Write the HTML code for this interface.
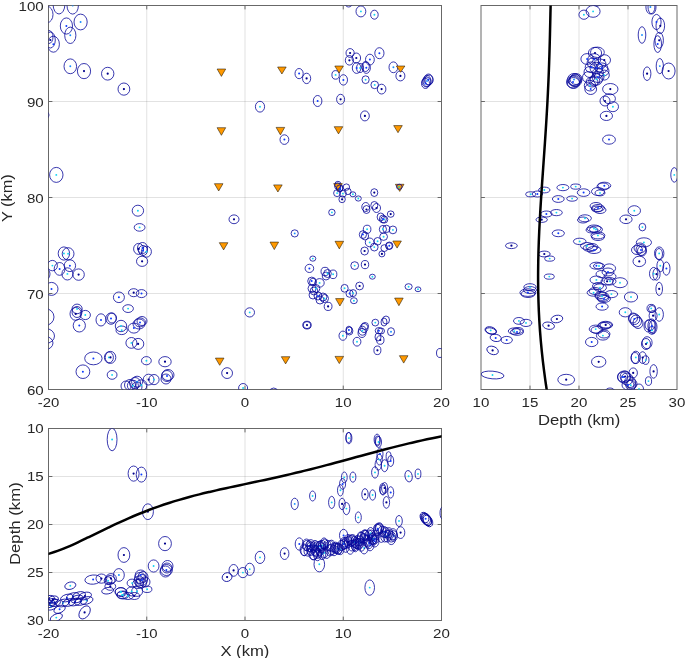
<!DOCTYPE html>
<html><head><meta charset="utf-8"><title>plot</title>
<style>html,body{margin:0;padding:0;background:#fff;overflow:hidden}svg{display:block;will-change:transform}text{font-family:'Liberation Sans', sans-serif;fill:#262626}</style></head><body>
<svg width="685" height="658" viewBox="0 0 685 658">
<rect x="0" y="0" width="685" height="658" fill="#fff"/>
<defs>
<clipPath id="cm"><rect x="48.5" y="5.5" width="393" height="384"/></clipPath>
<clipPath id="cr"><rect x="481" y="5.5" width="196" height="384"/></clipPath>
<clipPath id="cb"><rect x="48.5" y="428.5" width="393" height="192"/></clipPath>
</defs>
<g stroke="#262626" stroke-opacity="0.135" stroke-width="1" fill="none">
<line x1="146.75" y1="5.5" x2="146.75" y2="389.5"/>
<line x1="146.75" y1="428.5" x2="146.75" y2="620.5"/>
<line x1="245" y1="5.5" x2="245" y2="389.5"/>
<line x1="245" y1="428.5" x2="245" y2="620.5"/>
<line x1="343.25" y1="5.5" x2="343.25" y2="389.5"/>
<line x1="343.25" y1="428.5" x2="343.25" y2="620.5"/>
<line x1="48.5" y1="293.5" x2="441.5" y2="293.5"/>
<line x1="481" y1="293.5" x2="677" y2="293.5"/>
<line x1="48.5" y1="197.5" x2="441.5" y2="197.5"/>
<line x1="481" y1="197.5" x2="677" y2="197.5"/>
<line x1="48.5" y1="101.5" x2="441.5" y2="101.5"/>
<line x1="481" y1="101.5" x2="677" y2="101.5"/>
<line x1="530" y1="5.5" x2="530" y2="389.5"/>
<line x1="48.5" y1="476.5" x2="441.5" y2="476.5"/>
<line x1="579" y1="5.5" x2="579" y2="389.5"/>
<line x1="48.5" y1="524.5" x2="441.5" y2="524.5"/>
<line x1="628" y1="5.5" x2="628" y2="389.5"/>
<line x1="48.5" y1="572.5" x2="441.5" y2="572.5"/>
</g>
<g stroke="#686868" stroke-width="1" fill="none">
<rect x="48.5" y="5.5" width="393" height="384"/>
<rect x="481" y="5.5" width="196" height="384"/>
<rect x="48.5" y="428.5" width="393" height="192"/>
<line x1="146.75" y1="389.5" x2="146.75" y2="385.6"/>
<line x1="146.75" y1="5.5" x2="146.75" y2="9.4"/>
<line x1="245" y1="389.5" x2="245" y2="385.6"/>
<line x1="245" y1="5.5" x2="245" y2="9.4"/>
<line x1="343.25" y1="389.5" x2="343.25" y2="385.6"/>
<line x1="343.25" y1="5.5" x2="343.25" y2="9.4"/>
<line x1="48.5" y1="293.5" x2="52.4" y2="293.5"/>
<line x1="441.5" y1="293.5" x2="437.6" y2="293.5"/>
<line x1="48.5" y1="197.5" x2="52.4" y2="197.5"/>
<line x1="441.5" y1="197.5" x2="437.6" y2="197.5"/>
<line x1="48.5" y1="101.5" x2="52.4" y2="101.5"/>
<line x1="441.5" y1="101.5" x2="437.6" y2="101.5"/>
<line x1="530" y1="389.5" x2="530" y2="385.6"/>
<line x1="530" y1="5.5" x2="530" y2="9.4"/>
<line x1="579" y1="389.5" x2="579" y2="385.6"/>
<line x1="579" y1="5.5" x2="579" y2="9.4"/>
<line x1="628" y1="389.5" x2="628" y2="385.6"/>
<line x1="628" y1="5.5" x2="628" y2="9.4"/>
<line x1="481" y1="293.5" x2="484.9" y2="293.5"/>
<line x1="677" y1="293.5" x2="673.1" y2="293.5"/>
<line x1="481" y1="197.5" x2="484.9" y2="197.5"/>
<line x1="677" y1="197.5" x2="673.1" y2="197.5"/>
<line x1="481" y1="101.5" x2="484.9" y2="101.5"/>
<line x1="677" y1="101.5" x2="673.1" y2="101.5"/>
<line x1="146.75" y1="620.5" x2="146.75" y2="616.6"/>
<line x1="146.75" y1="428.5" x2="146.75" y2="432.4"/>
<line x1="245" y1="620.5" x2="245" y2="616.6"/>
<line x1="245" y1="428.5" x2="245" y2="432.4"/>
<line x1="343.25" y1="620.5" x2="343.25" y2="616.6"/>
<line x1="343.25" y1="428.5" x2="343.25" y2="432.4"/>
<line x1="48.5" y1="476.5" x2="52.4" y2="476.5"/>
<line x1="441.5" y1="476.5" x2="437.6" y2="476.5"/>
<line x1="48.5" y1="524.5" x2="52.4" y2="524.5"/>
<line x1="441.5" y1="524.5" x2="437.6" y2="524.5"/>
<line x1="48.5" y1="572.5" x2="52.4" y2="572.5"/>
<line x1="441.5" y1="572.5" x2="437.6" y2="572.5"/>
</g>
<g clip-path="url(#cm)">
<g fill="none" stroke="#06069a" stroke-width="0.8">
<ellipse cx="59" cy="4.5" rx="5.9" ry="9.5"/>
<ellipse cx="72.7" cy="5.6" rx="5.7" ry="8.5"/>
<ellipse cx="47.5" cy="14.5" rx="5.5" ry="8"/>
<ellipse cx="66.4" cy="26" rx="6.1" ry="8.1"/>
<ellipse cx="80.6" cy="22" rx="6.6" ry="7.9"/>
<ellipse cx="70.3" cy="35.3" rx="5.6" ry="8.2"/>
<ellipse cx="50.3" cy="40" rx="5" ry="8"/>
<ellipse cx="53.4" cy="44.2" rx="6" ry="8"/>
<ellipse cx="49" cy="37" rx="4" ry="6.5"/>
<ellipse cx="70.3" cy="66.3" rx="6.3" ry="7.4"/>
<ellipse cx="84" cy="71.1" rx="6.6" ry="7.6"/>
<ellipse cx="107.7" cy="73.7" rx="6.2" ry="6.4"/>
<ellipse cx="123.9" cy="89.1" rx="5.9" ry="6.1"/>
<ellipse cx="299.1" cy="73.6" rx="4.1" ry="5.1"/>
<ellipse cx="306.6" cy="78.4" rx="4.1" ry="5.2"/>
<ellipse cx="348.7" cy="2.5" rx="4" ry="4.5"/>
<ellipse cx="360.9" cy="11.4" rx="4.9" ry="5.5"/>
<ellipse cx="374.4" cy="14.7" rx="3.8" ry="4.5"/>
<ellipse cx="350.1" cy="53" rx="4.1" ry="4.4"/>
<ellipse cx="349.4" cy="60.3" rx="4.1" ry="4.8"/>
<ellipse cx="356.3" cy="58" rx="4.3" ry="5"/>
<ellipse cx="369.9" cy="59.6" rx="4.4" ry="5.4"/>
<ellipse cx="379.4" cy="53.2" rx="4.6" ry="5.5"/>
<ellipse cx="356.6" cy="68" rx="4.3" ry="5.4"/>
<ellipse cx="360.1" cy="68" rx="3.5" ry="4.5"/>
<ellipse cx="366.3" cy="67.7" rx="4.1" ry="5.7"/>
<ellipse cx="365.5" cy="66.5" rx="3.8" ry="5"/>
<ellipse cx="393.4" cy="67.3" rx="4.4" ry="5.4"/>
<ellipse cx="400.4" cy="75.9" rx="4.5" ry="5"/>
<ellipse cx="335.6" cy="74.9" rx="3.7" ry="4.3"/>
<ellipse cx="343.4" cy="79.9" rx="4.1" ry="5.2"/>
<ellipse cx="365.6" cy="79.7" rx="3.6" ry="3.9"/>
<ellipse cx="374.7" cy="84.9" rx="3.8" ry="3.8"/>
<ellipse cx="381.6" cy="89.1" rx="4.3" ry="4.9"/>
<ellipse cx="340.6" cy="99.3" rx="4" ry="5"/>
<ellipse cx="425.5" cy="83.5" rx="4" ry="5"/>
<ellipse cx="428.5" cy="79.5" rx="4.5" ry="5.5"/>
<ellipse cx="427" cy="81" rx="4" ry="5.5"/>
<ellipse cx="429" cy="80" rx="4" ry="5"/>
<ellipse cx="426.5" cy="82" rx="4.5" ry="5"/>
<ellipse cx="46.5" cy="115" rx="2.5" ry="3"/>
<ellipse cx="56.3" cy="174.9" rx="6.7" ry="7.5"/>
<ellipse cx="260" cy="106.7" rx="4.6" ry="5.4"/>
<ellipse cx="317.6" cy="101" rx="4.3" ry="5.5"/>
<ellipse cx="284.4" cy="139.6" rx="4.4" ry="4.8"/>
<ellipse cx="364.9" cy="115.9" rx="4.4" ry="5"/>
<ellipse cx="63.9" cy="253.5" rx="5.7" ry="6.6"/>
<ellipse cx="68.1" cy="253.8" rx="5.9" ry="6.1"/>
<ellipse cx="52.4" cy="265.6" rx="5" ry="5.2"/>
<ellipse cx="59.6" cy="268.9" rx="5.4" ry="6.4"/>
<ellipse cx="69.9" cy="265.7" rx="5.7" ry="5.9"/>
<ellipse cx="67.4" cy="273.9" rx="5.5" ry="6.1"/>
<ellipse cx="78.6" cy="274.6" rx="5.7" ry="5.7"/>
<ellipse cx="45" cy="274" rx="5" ry="6"/>
<ellipse cx="51.5" cy="288.9" rx="6.5" ry="6.5"/>
<ellipse cx="137.9" cy="210.7" rx="5.7" ry="5.5"/>
<ellipse cx="139.6" cy="227.4" rx="5.4" ry="3.8"/>
<ellipse cx="138.6" cy="248.9" rx="5" ry="5.5"/>
<ellipse cx="142.5" cy="248" rx="5" ry="5.5"/>
<ellipse cx="146.4" cy="251.7" rx="5" ry="5.5"/>
<ellipse cx="143" cy="250.5" rx="4.5" ry="5"/>
<ellipse cx="142.1" cy="261.3" rx="5.6" ry="5.1"/>
<ellipse cx="234" cy="219.3" rx="5" ry="4.4"/>
<ellipse cx="294.7" cy="233.4" rx="3.6" ry="3.6"/>
<ellipse cx="337.1" cy="193.1" rx="3.5" ry="3.5"/>
<ellipse cx="342.9" cy="193.6" rx="3.5" ry="3.5"/>
<ellipse cx="352.9" cy="194.3" rx="2.9" ry="2.5"/>
<ellipse cx="346.4" cy="187.1" rx="3.2" ry="3.2"/>
<ellipse cx="347.9" cy="191.4" rx="3.2" ry="3.2"/>
<ellipse cx="337.9" cy="184.3" rx="3" ry="3"/>
<ellipse cx="340" cy="188" rx="3" ry="3.5"/>
<ellipse cx="342.1" cy="199.3" rx="3.2" ry="3.4"/>
<ellipse cx="358.3" cy="198.5" rx="3" ry="2.6"/>
<ellipse cx="374.3" cy="192.6" rx="3.5" ry="3.9"/>
<ellipse cx="331.9" cy="212.4" rx="3.2" ry="3.2"/>
<ellipse cx="365.7" cy="207" rx="3.9" ry="4.5"/>
<ellipse cx="366.5" cy="209.5" rx="3.5" ry="4"/>
<ellipse cx="374.3" cy="205.5" rx="3.5" ry="4"/>
<ellipse cx="376.5" cy="208" rx="4" ry="4.5"/>
<ellipse cx="390.7" cy="214.1" rx="3.4" ry="3.2"/>
<ellipse cx="380.7" cy="217" rx="3.6" ry="4"/>
<ellipse cx="382.9" cy="219" rx="3.5" ry="4"/>
<ellipse cx="384.3" cy="219.6" rx="3.5" ry="3.5"/>
<ellipse cx="367.1" cy="229.3" rx="3.8" ry="4.1"/>
<ellipse cx="362.9" cy="234.6" rx="3.6" ry="3.9"/>
<ellipse cx="365" cy="236" rx="3.6" ry="4"/>
<ellipse cx="369.7" cy="242.4" rx="4.4" ry="4.4"/>
<ellipse cx="377.6" cy="241.3" rx="3.6" ry="3.8"/>
<ellipse cx="374.3" cy="247.1" rx="3.8" ry="3.9"/>
<ellipse cx="382.9" cy="229.3" rx="3.6" ry="3.9"/>
<ellipse cx="386.4" cy="228.9" rx="3.6" ry="3.7"/>
<ellipse cx="392.9" cy="229.9" rx="3.8" ry="3.9"/>
<ellipse cx="383.6" cy="236.7" rx="3.9" ry="3.7"/>
<ellipse cx="364.6" cy="251" rx="3.8" ry="4"/>
<ellipse cx="384.3" cy="248.1" rx="3.4" ry="3.4"/>
<ellipse cx="389.3" cy="245.7" rx="3.6" ry="3.7"/>
<ellipse cx="389" cy="246" rx="3.3" ry="3.4"/>
<ellipse cx="381.9" cy="253.9" rx="3" ry="3"/>
<ellipse cx="354.7" cy="265.6" rx="3.9" ry="3.9"/>
<ellipse cx="365" cy="264.6" rx="3.7" ry="4.1"/>
<ellipse cx="372.4" cy="276.7" rx="2.9" ry="2.5"/>
<ellipse cx="359.6" cy="286" rx="3.9" ry="3.9"/>
<ellipse cx="344.6" cy="288.3" rx="3.6" ry="3.9"/>
<ellipse cx="349.6" cy="293.6" rx="3.6" ry="3.7"/>
<ellipse cx="353.1" cy="293.1" rx="3.4" ry="3.5"/>
<ellipse cx="353.9" cy="300.7" rx="3.4" ry="3"/>
<ellipse cx="312.8" cy="258.6" rx="3" ry="2.6"/>
<ellipse cx="309.4" cy="268.4" rx="4.3" ry="4.1"/>
<ellipse cx="325" cy="271.5" rx="4" ry="4.2"/>
<ellipse cx="327.5" cy="273.5" rx="3.8" ry="4"/>
<ellipse cx="326" cy="276" rx="3.8" ry="4"/>
<ellipse cx="333.1" cy="274.3" rx="3.75" ry="4.3"/>
<ellipse cx="311.7" cy="281.1" rx="4" ry="4"/>
<ellipse cx="313" cy="282" rx="3.5" ry="3.8"/>
<ellipse cx="319.6" cy="282.9" rx="4.6" ry="4.3"/>
<ellipse cx="312" cy="288.5" rx="4" ry="4"/>
<ellipse cx="316" cy="288.5" rx="3.8" ry="4"/>
<ellipse cx="314" cy="291" rx="3.8" ry="4"/>
<ellipse cx="313" cy="295" rx="4" ry="4"/>
<ellipse cx="318" cy="296" rx="4" ry="4"/>
<ellipse cx="323" cy="297" rx="4" ry="4"/>
<ellipse cx="324.5" cy="298.5" rx="4" ry="4"/>
<ellipse cx="320" cy="300" rx="4" ry="4"/>
<ellipse cx="328.1" cy="306.4" rx="3.9" ry="4.1"/>
<ellipse cx="307" cy="325.1" rx="4.2" ry="3.9"/>
<ellipse cx="307" cy="325.1" rx="3.8" ry="3.5"/>
<ellipse cx="342.9" cy="335.7" rx="3.9" ry="4.6"/>
<ellipse cx="348.9" cy="330" rx="3" ry="3.8"/>
<ellipse cx="349.5" cy="331" rx="3.4" ry="4"/>
<ellipse cx="362.4" cy="330.7" rx="4" ry="4.5"/>
<ellipse cx="364" cy="328" rx="4" ry="4.5"/>
<ellipse cx="362" cy="333" rx="4" ry="4.5"/>
<ellipse cx="365" cy="326" rx="3.5" ry="3.5"/>
<ellipse cx="357" cy="341.7" rx="3.9" ry="4.4"/>
<ellipse cx="375.3" cy="322.6" rx="3.4" ry="3.4"/>
<ellipse cx="378.9" cy="330.7" rx="3.7" ry="3.2"/>
<ellipse cx="381" cy="331" rx="3.5" ry="3"/>
<ellipse cx="380.3" cy="340" rx="3.7" ry="4.3"/>
<ellipse cx="378" cy="337" rx="3" ry="4"/>
<ellipse cx="377.4" cy="350.3" rx="3.5" ry="4.3"/>
<ellipse cx="386" cy="320" rx="3.5" ry="4"/>
<ellipse cx="384" cy="322" rx="3" ry="4"/>
<ellipse cx="391" cy="331.7" rx="3.5" ry="4"/>
<ellipse cx="440" cy="353" rx="3.5" ry="4.5"/>
<ellipse cx="118.9" cy="297.3" rx="5.5" ry="5.3"/>
<ellipse cx="133.7" cy="292.7" rx="5.2" ry="4"/>
<ellipse cx="141.5" cy="293.6" rx="5.3" ry="4"/>
<ellipse cx="128.1" cy="308.6" rx="5.3" ry="3.9"/>
<ellipse cx="77.1" cy="308.9" rx="5.1" ry="4.8"/>
<ellipse cx="75.7" cy="313.9" rx="5.7" ry="6.4"/>
<ellipse cx="77" cy="312" rx="5" ry="5.5"/>
<ellipse cx="85.3" cy="315" rx="5.1" ry="4.6"/>
<ellipse cx="79.3" cy="325.6" rx="6.1" ry="6.4"/>
<ellipse cx="101" cy="319.9" rx="5" ry="6.1"/>
<ellipse cx="111" cy="318.6" rx="5.2" ry="5.7"/>
<ellipse cx="112" cy="318" rx="4.5" ry="5"/>
<ellipse cx="121" cy="326" rx="5.7" ry="5.7"/>
<ellipse cx="121.7" cy="330.3" rx="5.7" ry="4.3"/>
<ellipse cx="133.9" cy="328.1" rx="5.9" ry="5"/>
<ellipse cx="140" cy="322.4" rx="5.5" ry="4.5"/>
<ellipse cx="139" cy="324" rx="6" ry="5"/>
<ellipse cx="142" cy="321" rx="5" ry="4.5"/>
<ellipse cx="131.4" cy="342.9" rx="5.5" ry="5.4"/>
<ellipse cx="138.1" cy="343.9" rx="5.7" ry="5.5"/>
<ellipse cx="93.4" cy="358.4" rx="8.7" ry="6.4"/>
<ellipse cx="108.9" cy="357.4" rx="4.5" ry="5.5"/>
<ellipse cx="110.5" cy="357.4" rx="5.3" ry="6"/>
<ellipse cx="82.9" cy="371.7" rx="6.9" ry="6.8"/>
<ellipse cx="112.1" cy="374.9" rx="4.9" ry="4.4"/>
<ellipse cx="45" cy="317" rx="9" ry="8.5"/>
<ellipse cx="45.5" cy="336" rx="9" ry="7.5"/>
<ellipse cx="44" cy="343" rx="9" ry="7"/>
<ellipse cx="146.4" cy="360.7" rx="4.9" ry="4.1"/>
<ellipse cx="165" cy="361.7" rx="6.2" ry="5.1"/>
<ellipse cx="167" cy="376" rx="5.5" ry="5.5"/>
<ellipse cx="166" cy="379" rx="5" ry="5"/>
<ellipse cx="168" cy="375" rx="6" ry="5.5"/>
<ellipse cx="148.6" cy="379.6" rx="5.4" ry="5.4"/>
<ellipse cx="154" cy="379.6" rx="5.1" ry="5.1"/>
<ellipse cx="130" cy="385" rx="5.5" ry="5.5"/>
<ellipse cx="132.9" cy="385.7" rx="5.5" ry="5.5"/>
<ellipse cx="137.1" cy="381.7" rx="5.5" ry="5.5"/>
<ellipse cx="141.4" cy="385.3" rx="5.5" ry="5.5"/>
<ellipse cx="137" cy="387" rx="5" ry="5"/>
<ellipse cx="135" cy="383" rx="5.5" ry="5.5"/>
<ellipse cx="126" cy="386" rx="5" ry="5"/>
<ellipse cx="249.7" cy="312.4" rx="4.8" ry="4.6"/>
<ellipse cx="227.1" cy="373.1" rx="5.4" ry="5.4"/>
<ellipse cx="243.1" cy="388" rx="4.5" ry="4.5"/>
<ellipse cx="273.7" cy="392" rx="4" ry="4"/>
<ellipse cx="408.6" cy="286.7" rx="3.6" ry="3"/>
<ellipse cx="418" cy="289.3" rx="2.9" ry="2.4"/>
</g>
<g fill="#14d4f2">
<circle cx="360.9" cy="11.4" r="0.95"/>
<circle cx="374.4" cy="14.7" r="0.95"/>
<circle cx="360.1" cy="68" r="0.95"/>
<circle cx="335.6" cy="74.9" r="0.95"/>
<circle cx="365.6" cy="79.7" r="0.95"/>
<circle cx="374.7" cy="84.9" r="0.95"/>
<circle cx="56.3" cy="174.9" r="0.95"/>
<circle cx="260" cy="106.7" r="0.95"/>
<circle cx="63.9" cy="253.5" r="0.95"/>
<circle cx="68.1" cy="253.8" r="0.95"/>
<circle cx="52.4" cy="265.6" r="0.95"/>
<circle cx="67.4" cy="273.9" r="0.95"/>
<circle cx="137.9" cy="210.7" r="0.95"/>
<circle cx="139.6" cy="227.4" r="0.95"/>
<circle cx="146.4" cy="251.7" r="0.95"/>
<circle cx="337.1" cy="193.1" r="0.95"/>
<circle cx="342.9" cy="193.6" r="0.95"/>
<circle cx="352.9" cy="194.3" r="0.95"/>
<circle cx="358.3" cy="198.5" r="0.95"/>
<circle cx="331.9" cy="212.4" r="0.95"/>
<circle cx="384.3" cy="219.6" r="0.95"/>
<circle cx="367.1" cy="229.3" r="0.95"/>
<circle cx="369.7" cy="242.4" r="0.95"/>
<circle cx="377.6" cy="241.3" r="0.95"/>
<circle cx="374.3" cy="247.1" r="0.95"/>
<circle cx="382.9" cy="229.3" r="0.95"/>
<circle cx="392.9" cy="229.9" r="0.95"/>
<circle cx="383.6" cy="236.7" r="0.95"/>
<circle cx="354.7" cy="265.6" r="0.95"/>
<circle cx="372.4" cy="276.7" r="0.95"/>
<circle cx="344.6" cy="288.3" r="0.95"/>
<circle cx="353.1" cy="293.1" r="0.95"/>
<circle cx="353.9" cy="300.7" r="0.95"/>
<circle cx="312.8" cy="258.6" r="0.95"/>
<circle cx="327.5" cy="273.5" r="0.95"/>
<circle cx="333.1" cy="274.3" r="0.95"/>
<circle cx="319.6" cy="282.9" r="0.95"/>
<circle cx="316" cy="288.5" r="0.95"/>
<circle cx="324.5" cy="298.5" r="0.95"/>
<circle cx="342.9" cy="335.7" r="0.95"/>
<circle cx="362.4" cy="330.7" r="0.95"/>
<circle cx="357" cy="341.7" r="0.95"/>
<circle cx="375.3" cy="322.6" r="0.95"/>
<circle cx="128.1" cy="308.6" r="0.95"/>
<circle cx="77.1" cy="308.9" r="0.95"/>
<circle cx="85.3" cy="315" r="0.95"/>
<circle cx="121" cy="326" r="0.95"/>
<circle cx="121.7" cy="330.3" r="0.95"/>
<circle cx="131.4" cy="342.9" r="0.95"/>
<circle cx="108.9" cy="357.4" r="0.95"/>
<circle cx="112.1" cy="374.9" r="0.95"/>
<circle cx="146.4" cy="360.7" r="0.95"/>
<circle cx="154" cy="379.6" r="0.95"/>
<circle cx="132.9" cy="385.7" r="0.95"/>
<circle cx="141.4" cy="385.3" r="0.95"/>
<circle cx="249.7" cy="312.4" r="0.95"/>
<circle cx="243.1" cy="388" r="0.95"/>
<circle cx="408.6" cy="286.7" r="0.95"/>
<circle cx="418" cy="289.3" r="0.95"/>
</g>
<g fill="#168cff">
<circle cx="72.7" cy="5.6" r="0.95"/>
<circle cx="80.6" cy="22" r="0.95"/>
<circle cx="70.3" cy="35.3" r="0.95"/>
<circle cx="70.3" cy="66.3" r="0.95"/>
<circle cx="393.4" cy="67.3" r="0.95"/>
<circle cx="427" cy="81" r="0.95"/>
<circle cx="294.7" cy="233.4" r="0.95"/>
<circle cx="391" cy="331.7" r="0.95"/>
<circle cx="137.1" cy="381.7" r="0.95"/>
</g>
<g fill="#0c3cff">
<circle cx="66.4" cy="26" r="1"/>
<circle cx="53.4" cy="44.2" r="1"/>
<circle cx="299.1" cy="73.6" r="1"/>
<circle cx="369.9" cy="59.6" r="1"/>
<circle cx="379.4" cy="53.2" r="1"/>
<circle cx="356.6" cy="68" r="1"/>
<circle cx="366.3" cy="67.7" r="1"/>
<circle cx="343.4" cy="79.9" r="1"/>
<circle cx="425.5" cy="83.5" r="1"/>
<circle cx="428.5" cy="79.5" r="1"/>
<circle cx="317.6" cy="101" r="1"/>
<circle cx="284.4" cy="139.6" r="1"/>
<circle cx="59.6" cy="268.9" r="1"/>
<circle cx="69.9" cy="265.7" r="1"/>
<circle cx="51.5" cy="288.9" r="1"/>
<circle cx="142.5" cy="248" r="1"/>
<circle cx="143" cy="250.5" r="1"/>
<circle cx="340" cy="188" r="1"/>
<circle cx="382.9" cy="219" r="1"/>
<circle cx="362.9" cy="234.6" r="1"/>
<circle cx="389.3" cy="245.7" r="1"/>
<circle cx="349.6" cy="293.6" r="1"/>
<circle cx="309.4" cy="268.4" r="1"/>
<circle cx="311.7" cy="281.1" r="1"/>
<circle cx="318" cy="296" r="1"/>
<circle cx="348.9" cy="330" r="1"/>
<circle cx="378.9" cy="330.7" r="1"/>
<circle cx="118.9" cy="297.3" r="1"/>
<circle cx="141.5" cy="293.6" r="1"/>
<circle cx="79.3" cy="325.6" r="1"/>
<circle cx="101" cy="319.9" r="1"/>
<circle cx="111" cy="318.6" r="1"/>
<circle cx="133.9" cy="328.1" r="1"/>
<circle cx="140" cy="322.4" r="1"/>
<circle cx="93.4" cy="358.4" r="1"/>
<circle cx="82.9" cy="371.7" r="1"/>
<circle cx="167" cy="376" r="1"/>
</g>
<g fill="#00008c">
<circle cx="50.3" cy="40" r="1.1"/>
<circle cx="84" cy="71.1" r="1.1"/>
<circle cx="107.7" cy="73.7" r="1.1"/>
<circle cx="123.9" cy="89.1" r="1.1"/>
<circle cx="306.6" cy="78.4" r="1.1"/>
<circle cx="350.1" cy="53" r="1.1"/>
<circle cx="349.4" cy="60.3" r="1.1"/>
<circle cx="356.3" cy="58" r="1.1"/>
<circle cx="400.4" cy="75.9" r="1.1"/>
<circle cx="381.6" cy="89.1" r="1.1"/>
<circle cx="340.6" cy="99.3" r="1.1"/>
<circle cx="364.9" cy="115.9" r="1.1"/>
<circle cx="78.6" cy="274.6" r="1.1"/>
<circle cx="138.6" cy="248.9" r="1.1"/>
<circle cx="142.1" cy="261.3" r="1.1"/>
<circle cx="234" cy="219.3" r="1.1"/>
<circle cx="342.1" cy="199.3" r="1.1"/>
<circle cx="374.3" cy="192.6" r="1.1"/>
<circle cx="366.5" cy="209.5" r="1.1"/>
<circle cx="376.5" cy="208" r="1.1"/>
<circle cx="390.7" cy="214.1" r="1.1"/>
<circle cx="364.6" cy="251" r="1.1"/>
<circle cx="381.9" cy="253.9" r="1.1"/>
<circle cx="365" cy="264.6" r="1.1"/>
<circle cx="359.6" cy="286" r="1.1"/>
<circle cx="328.1" cy="306.4" r="1.1"/>
<circle cx="307" cy="325.1" r="1.1"/>
<circle cx="380.3" cy="340" r="1.1"/>
<circle cx="377.4" cy="350.3" r="1.1"/>
<circle cx="133.7" cy="292.7" r="1.1"/>
<circle cx="75.7" cy="313.9" r="1.1"/>
<circle cx="138.1" cy="343.9" r="1.1"/>
<circle cx="110.5" cy="357.4" r="1.1"/>
<circle cx="165" cy="361.7" r="1.1"/>
<circle cx="148.6" cy="379.6" r="1.1"/>
<circle cx="227.1" cy="373.1" r="1.1"/>
</g>
</g>
<g clip-path="url(#cr)">
<g fill="none" stroke="#06069a" stroke-width="0.8">
<ellipse cx="593.1" cy="11.4" rx="7" ry="5.9"/>
<ellipse cx="583.9" cy="14.7" rx="5" ry="4.6"/>
<ellipse cx="597.1" cy="2" rx="5" ry="4"/>
<ellipse cx="650.4" cy="7" rx="4.5" ry="7"/>
<ellipse cx="652" cy="7" rx="4" ry="7"/>
<ellipse cx="656.5" cy="22" rx="4.6" ry="7.6"/>
<ellipse cx="660.3" cy="25.8" rx="4.3" ry="7.8"/>
<ellipse cx="642" cy="35" rx="3.8" ry="8.3"/>
<ellipse cx="659.2" cy="40.3" rx="4.2" ry="8"/>
<ellipse cx="657.7" cy="44.1" rx="3.8" ry="8.4"/>
<ellipse cx="659.8" cy="66.1" rx="3.6" ry="7.6"/>
<ellipse cx="668.6" cy="71" rx="6.5" ry="8"/>
<ellipse cx="647.1" cy="73.7" rx="3.8" ry="6.8"/>
<ellipse cx="595" cy="53" rx="6.6" ry="5.7"/>
<ellipse cx="597.4" cy="52.3" rx="6.9" ry="5.2"/>
<ellipse cx="587.1" cy="59" rx="6.2" ry="5.4"/>
<ellipse cx="594.3" cy="59.4" rx="6.4" ry="5.7"/>
<ellipse cx="604.3" cy="60.1" rx="6.2" ry="5.4"/>
<ellipse cx="591.4" cy="67.3" rx="6.2" ry="5.4"/>
<ellipse cx="596.4" cy="68" rx="6.4" ry="5.7"/>
<ellipse cx="601.7" cy="68" rx="6.1" ry="5.1"/>
<ellipse cx="604.3" cy="75.1" rx="5" ry="5"/>
<ellipse cx="588.6" cy="77.3" rx="6.1" ry="5.7"/>
<ellipse cx="596.4" cy="79.4" rx="6.1" ry="5.7"/>
<ellipse cx="590" cy="85.6" rx="5.7" ry="5.4"/>
<ellipse cx="590.7" cy="89.1" rx="5.9" ry="5.4"/>
<ellipse cx="594.3" cy="80.9" rx="5.5" ry="5"/>
<ellipse cx="597.9" cy="73" rx="5.5" ry="5"/>
<ellipse cx="610.3" cy="89.1" rx="7.7" ry="5.6"/>
<ellipse cx="574" cy="79.5" rx="6.5" ry="6"/>
<ellipse cx="575.5" cy="80.5" rx="6.3" ry="6"/>
<ellipse cx="573" cy="82" rx="6.5" ry="6"/>
<ellipse cx="574.5" cy="81" rx="6" ry="5.5"/>
<ellipse cx="576" cy="79" rx="6" ry="5.5"/>
<ellipse cx="573.5" cy="83" rx="6.2" ry="5.5"/>
<ellipse cx="593" cy="63" rx="6" ry="5"/>
<ellipse cx="600" cy="64" rx="6" ry="5"/>
<ellipse cx="590" cy="72" rx="6" ry="5.5"/>
<ellipse cx="598" cy="77" rx="6" ry="5.5"/>
<ellipse cx="603" cy="71" rx="6" ry="5"/>
<ellipse cx="592" cy="82" rx="6" ry="5"/>
<ellipse cx="605" cy="101" rx="5" ry="5"/>
<ellipse cx="609.3" cy="98.7" rx="6.1" ry="5"/>
<ellipse cx="612.9" cy="106.7" rx="5.6" ry="5"/>
<ellipse cx="606.4" cy="115.9" rx="6.1" ry="4.6"/>
<ellipse cx="609" cy="139.6" rx="6.4" ry="4.6"/>
<ellipse cx="674.3" cy="174.9" rx="3.5" ry="7.3"/>
<ellipse cx="530.7" cy="194.3" rx="5" ry="2.5"/>
<ellipse cx="537.4" cy="194" rx="5.2" ry="3"/>
<ellipse cx="544.3" cy="190" rx="5.7" ry="2.9"/>
<ellipse cx="562.9" cy="187.6" rx="6" ry="3.1"/>
<ellipse cx="575.7" cy="186.6" rx="5" ry="2.6"/>
<ellipse cx="583.6" cy="192.6" rx="6.3" ry="3.8"/>
<ellipse cx="558.3" cy="199" rx="5.9" ry="3.4"/>
<ellipse cx="572.1" cy="198.6" rx="5.4" ry="2.6"/>
<ellipse cx="546.4" cy="214" rx="5.7" ry="3"/>
<ellipse cx="556.4" cy="212.6" rx="5.9" ry="3.1"/>
<ellipse cx="541.7" cy="219.7" rx="5.7" ry="2.7"/>
<ellipse cx="558.3" cy="233.3" rx="6.1" ry="3.4"/>
<ellipse cx="511.4" cy="245.7" rx="5.9" ry="2.9"/>
<ellipse cx="544.3" cy="254" rx="5.9" ry="2.9"/>
<ellipse cx="549.7" cy="258.6" rx="5" ry="2.6"/>
<ellipse cx="549.3" cy="276.6" rx="5" ry="2.6"/>
<ellipse cx="604.3" cy="185.7" rx="6.5" ry="3.5"/>
<ellipse cx="603" cy="186.5" rx="6" ry="3.5"/>
<ellipse cx="598" cy="191.5" rx="6.5" ry="4"/>
<ellipse cx="600" cy="192.9" rx="5" ry="3"/>
<ellipse cx="596" cy="206" rx="6" ry="3.5"/>
<ellipse cx="598" cy="208" rx="6.5" ry="3.5"/>
<ellipse cx="600" cy="210" rx="6" ry="3.5"/>
<ellipse cx="597" cy="209" rx="5.5" ry="3"/>
<ellipse cx="585" cy="218.3" rx="6.4" ry="3.5"/>
<ellipse cx="583" cy="220" rx="5.5" ry="3"/>
<ellipse cx="594" cy="228.5" rx="7" ry="3.5"/>
<ellipse cx="596" cy="229.5" rx="6.5" ry="3.5"/>
<ellipse cx="592" cy="230" rx="6" ry="3"/>
<ellipse cx="597.9" cy="235.4" rx="7" ry="3.5"/>
<ellipse cx="598" cy="237" rx="6.5" ry="3.5"/>
<ellipse cx="579.7" cy="241.4" rx="6.3" ry="3.2"/>
<ellipse cx="587" cy="246" rx="6.5" ry="3.5"/>
<ellipse cx="590" cy="248" rx="7" ry="3.5"/>
<ellipse cx="594" cy="250" rx="7" ry="3.5"/>
<ellipse cx="592" cy="247" rx="6" ry="3.5"/>
<ellipse cx="596.4" cy="265.7" rx="6.5" ry="3.5"/>
<ellipse cx="599" cy="266" rx="5.5" ry="3"/>
<ellipse cx="634.3" cy="210.7" rx="6.2" ry="5"/>
<ellipse cx="626" cy="219.3" rx="6.1" ry="4.3"/>
<ellipse cx="642.4" cy="227.1" rx="3.4" ry="3.8"/>
<ellipse cx="643.9" cy="242.4" rx="7.6" ry="4.6"/>
<ellipse cx="640" cy="248" rx="6" ry="5"/>
<ellipse cx="641" cy="250" rx="5" ry="5.5"/>
<ellipse cx="642" cy="251" rx="4.5" ry="5"/>
<ellipse cx="637" cy="250" rx="5.5" ry="4.5"/>
<ellipse cx="639.3" cy="261.4" rx="6.3" ry="5.2"/>
<ellipse cx="659.2" cy="253.4" rx="4.7" ry="6.5"/>
<ellipse cx="659" cy="254" rx="3.5" ry="5.5"/>
<ellipse cx="660.3" cy="265.8" rx="3.4" ry="6"/>
<ellipse cx="666.4" cy="268.6" rx="3.6" ry="6.6"/>
<ellipse cx="653.7" cy="273.7" rx="4.2" ry="6.3"/>
<ellipse cx="656.5" cy="274.2" rx="3.6" ry="6"/>
<ellipse cx="659.2" cy="288.9" rx="3.3" ry="6.6"/>
<ellipse cx="609.3" cy="268.4" rx="6.3" ry="4.5"/>
<ellipse cx="608" cy="272" rx="6" ry="4"/>
<ellipse cx="601.4" cy="274.1" rx="5.4" ry="3.6"/>
<ellipse cx="610" cy="276.3" rx="6" ry="3.5"/>
<ellipse cx="596.4" cy="279.9" rx="6.4" ry="3.9"/>
<ellipse cx="607.1" cy="281.3" rx="6.1" ry="3.7"/>
<ellipse cx="610" cy="281.3" rx="6" ry="3.7"/>
<ellipse cx="620" cy="282.7" rx="7.5" ry="5"/>
<ellipse cx="600" cy="287.7" rx="6.5" ry="3.8"/>
<ellipse cx="598" cy="286" rx="5.5" ry="3.5"/>
<ellipse cx="593.6" cy="292.7" rx="6.5" ry="3.5"/>
<ellipse cx="595" cy="291" rx="6" ry="3.5"/>
<ellipse cx="602" cy="296.3" rx="7" ry="4"/>
<ellipse cx="604" cy="299" rx="6.5" ry="3.5"/>
<ellipse cx="601" cy="295" rx="6" ry="3.5"/>
<ellipse cx="603" cy="298" rx="6" ry="3.5"/>
<ellipse cx="611.4" cy="294.1" rx="6.3" ry="3.6"/>
<ellipse cx="602.1" cy="306.6" rx="6.1" ry="3.6"/>
<ellipse cx="631" cy="297" rx="6.6" ry="5"/>
<ellipse cx="625.3" cy="312.3" rx="6.1" ry="4.6"/>
<ellipse cx="634.3" cy="319.1" rx="5.5" ry="5.5"/>
<ellipse cx="636" cy="321" rx="5.5" ry="6"/>
<ellipse cx="638" cy="323" rx="5" ry="5.5"/>
<ellipse cx="633" cy="318" rx="4.5" ry="5"/>
<ellipse cx="651.2" cy="308.4" rx="4.2" ry="4"/>
<ellipse cx="652" cy="309" rx="3.5" ry="3.5"/>
<ellipse cx="653.1" cy="315.7" rx="4" ry="5"/>
<ellipse cx="659.2" cy="314.5" rx="4.2" ry="6.8"/>
<ellipse cx="651.9" cy="325.9" rx="4" ry="7"/>
<ellipse cx="653" cy="327" rx="4" ry="6.5"/>
<ellipse cx="650" cy="325" rx="5" ry="5.5"/>
<ellipse cx="648" cy="326" rx="4" ry="6"/>
<ellipse cx="651.9" cy="330.4" rx="3.5" ry="4"/>
<ellipse cx="605.7" cy="324.9" rx="7" ry="3.6"/>
<ellipse cx="606" cy="325" rx="6" ry="3"/>
<ellipse cx="604" cy="326" rx="6.5" ry="3.5"/>
<ellipse cx="595.7" cy="329.1" rx="6.5" ry="4"/>
<ellipse cx="597" cy="330" rx="6" ry="3.5"/>
<ellipse cx="602.9" cy="335.6" rx="6.5" ry="4.5"/>
<ellipse cx="604" cy="334" rx="6" ry="4"/>
<ellipse cx="591.7" cy="342" rx="6.2" ry="4.6"/>
<ellipse cx="647.1" cy="342.7" rx="5" ry="6"/>
<ellipse cx="646" cy="344" rx="4.5" ry="5.5"/>
<ellipse cx="530" cy="287.1" rx="6.2" ry="3.4"/>
<ellipse cx="527.9" cy="292.6" rx="8" ry="3.8"/>
<ellipse cx="530" cy="290" rx="6.5" ry="3.5"/>
<ellipse cx="528" cy="294" rx="7" ry="3.5"/>
<ellipse cx="518.9" cy="320.9" rx="5.4" ry="3.4"/>
<ellipse cx="526" cy="322.9" rx="5.9" ry="3.6"/>
<ellipse cx="490.7" cy="330.4" rx="5.8" ry="3.5" transform="rotate(15 490.7 330.4)"/>
<ellipse cx="491" cy="331" rx="5.5" ry="3" transform="rotate(15 491 331)"/>
<ellipse cx="514.3" cy="331.1" rx="6" ry="3.2"/>
<ellipse cx="517" cy="332" rx="6.5" ry="3.3"/>
<ellipse cx="518" cy="330.5" rx="5.5" ry="3"/>
<ellipse cx="495.7" cy="337.9" rx="5.6" ry="3.6" transform="rotate(10 495.7 337.9)"/>
<ellipse cx="506.7" cy="340" rx="5.7" ry="3.6"/>
<ellipse cx="492.6" cy="350.4" rx="5.9" ry="4" transform="rotate(20 492.6 350.4)"/>
<ellipse cx="556.9" cy="319" rx="5.9" ry="3.7" transform="rotate(-10 556.9 319)"/>
<ellipse cx="548.6" cy="325.7" rx="5.9" ry="3.6" transform="rotate(10 548.6 325.7)"/>
<ellipse cx="492.5" cy="375" rx="11.5" ry="3.8" transform="rotate(5 492.5 375)"/>
<ellipse cx="566.2" cy="379.7" rx="8.4" ry="5.4"/>
<ellipse cx="598.7" cy="361.8" rx="7.2" ry="5.5"/>
<ellipse cx="635.8" cy="357.4" rx="4.6" ry="6.2"/>
<ellipse cx="635" cy="358" rx="4" ry="5.5"/>
<ellipse cx="642.6" cy="357.6" rx="3.8" ry="5.9"/>
<ellipse cx="645.7" cy="360.1" rx="3.3" ry="4.3"/>
<ellipse cx="653.6" cy="371.4" rx="3.7" ry="6.8"/>
<ellipse cx="648.5" cy="381.1" rx="3.1" ry="4.3"/>
<ellipse cx="633.2" cy="372.9" rx="4.2" ry="5"/>
<ellipse cx="639" cy="389" rx="4.5" ry="5"/>
<ellipse cx="624" cy="377" rx="6.5" ry="6"/>
<ellipse cx="627" cy="379" rx="6" ry="6"/>
<ellipse cx="630" cy="382" rx="5.5" ry="5.5"/>
<ellipse cx="628" cy="385" rx="6" ry="5"/>
<ellipse cx="632" cy="384" rx="5" ry="5"/>
<ellipse cx="622.7" cy="377" rx="5" ry="5"/>
<ellipse cx="625.2" cy="376.5" rx="5" ry="5.5"/>
<ellipse cx="630.8" cy="385.2" rx="5" ry="5"/>
<ellipse cx="610" cy="392" rx="5" ry="4"/>
</g>
<g fill="#14d4f2">
<circle cx="593.1" cy="11.4" r="0.95"/>
<circle cx="583.9" cy="14.7" r="0.95"/>
<circle cx="604.3" cy="75.1" r="0.95"/>
<circle cx="596.4" cy="79.4" r="0.95"/>
<circle cx="590" cy="85.6" r="0.95"/>
<circle cx="612.9" cy="106.7" r="0.95"/>
<circle cx="674.3" cy="174.9" r="0.95"/>
<circle cx="530.7" cy="194.3" r="0.95"/>
<circle cx="544.3" cy="190" r="0.95"/>
<circle cx="562.9" cy="187.6" r="0.95"/>
<circle cx="575.7" cy="186.6" r="0.95"/>
<circle cx="572.1" cy="198.6" r="0.95"/>
<circle cx="556.4" cy="212.6" r="0.95"/>
<circle cx="549.7" cy="258.6" r="0.95"/>
<circle cx="549.3" cy="276.6" r="0.95"/>
<circle cx="600" cy="192.9" r="0.95"/>
<circle cx="585" cy="218.3" r="0.95"/>
<circle cx="594" cy="228.5" r="0.95"/>
<circle cx="596" cy="229.5" r="0.95"/>
<circle cx="597.9" cy="235.4" r="0.95"/>
<circle cx="579.7" cy="241.4" r="0.95"/>
<circle cx="587" cy="246" r="0.95"/>
<circle cx="599" cy="266" r="0.95"/>
<circle cx="634.3" cy="210.7" r="0.95"/>
<circle cx="642.4" cy="227.1" r="0.95"/>
<circle cx="643.9" cy="242.4" r="0.95"/>
<circle cx="659.2" cy="253.4" r="0.95"/>
<circle cx="660.3" cy="265.8" r="0.95"/>
<circle cx="653.7" cy="273.7" r="0.95"/>
<circle cx="596.4" cy="279.9" r="0.95"/>
<circle cx="610" cy="281.3" r="0.95"/>
<circle cx="620" cy="282.7" r="0.95"/>
<circle cx="600" cy="287.7" r="0.95"/>
<circle cx="593.6" cy="292.7" r="0.95"/>
<circle cx="602" cy="296.3" r="0.95"/>
<circle cx="611.4" cy="294.1" r="0.95"/>
<circle cx="631" cy="297" r="0.95"/>
<circle cx="625.3" cy="312.3" r="0.95"/>
<circle cx="651.2" cy="308.4" r="0.95"/>
<circle cx="659.2" cy="314.5" r="0.95"/>
<circle cx="651.9" cy="330.4" r="0.95"/>
<circle cx="595.7" cy="329.1" r="0.95"/>
<circle cx="602.9" cy="335.6" r="0.95"/>
<circle cx="647.1" cy="342.7" r="0.95"/>
<circle cx="530" cy="287.1" r="0.95"/>
<circle cx="518.9" cy="320.9" r="0.95"/>
<circle cx="526" cy="322.9" r="0.95"/>
<circle cx="490.7" cy="330.4" r="0.95"/>
<circle cx="514.3" cy="331.1" r="0.95"/>
<circle cx="492.5" cy="375" r="0.95"/>
<circle cx="635.8" cy="357.4" r="0.95"/>
<circle cx="645.7" cy="360.1" r="0.95"/>
<circle cx="648.5" cy="381.1" r="0.95"/>
<circle cx="639" cy="389" r="0.95"/>
<circle cx="630.8" cy="385.2" r="0.95"/>
</g>
<g fill="#168cff">
<circle cx="650.4" cy="7" r="0.95"/>
<circle cx="642" cy="35" r="0.95"/>
<circle cx="659.8" cy="66.1" r="0.95"/>
<circle cx="574" cy="79.5" r="0.95"/>
</g>
<g fill="#0c3cff">
<circle cx="656.5" cy="22" r="1"/>
<circle cx="657.7" cy="44.1" r="1"/>
<circle cx="587.1" cy="59" r="1"/>
<circle cx="594.3" cy="59.4" r="1"/>
<circle cx="591.4" cy="67.3" r="1"/>
<circle cx="596.4" cy="68" r="1"/>
<circle cx="601.7" cy="68" r="1"/>
<circle cx="590.7" cy="89.1" r="1"/>
<circle cx="573" cy="82" r="1"/>
<circle cx="600" cy="64" r="1"/>
<circle cx="598" cy="77" r="1"/>
<circle cx="609" cy="139.6" r="1"/>
<circle cx="537.4" cy="194" r="1"/>
<circle cx="583.6" cy="192.6" r="1"/>
<circle cx="558.3" cy="199" r="1"/>
<circle cx="546.4" cy="214" r="1"/>
<circle cx="558.3" cy="233.3" r="1"/>
<circle cx="604.3" cy="185.7" r="1"/>
<circle cx="598" cy="208" r="1"/>
<circle cx="594" cy="250" r="1"/>
<circle cx="596.4" cy="265.7" r="1"/>
<circle cx="641" cy="250" r="1"/>
<circle cx="666.4" cy="268.6" r="1"/>
<circle cx="608" cy="272" r="1"/>
<circle cx="604" cy="299" r="1"/>
<circle cx="602.1" cy="306.6" r="1"/>
<circle cx="634.3" cy="319.1" r="1"/>
<circle cx="651.9" cy="325.9" r="1"/>
<circle cx="591.7" cy="342" r="1"/>
<circle cx="527.9" cy="292.6" r="1"/>
<circle cx="517" cy="332" r="1"/>
<circle cx="495.7" cy="337.9" r="1"/>
<circle cx="506.7" cy="340" r="1"/>
<circle cx="624" cy="377" r="1"/>
<circle cx="628" cy="385" r="1"/>
<circle cx="622.7" cy="377" r="1"/>
</g>
<g fill="#00008c">
<circle cx="660.3" cy="25.8" r="1.1"/>
<circle cx="659.2" cy="40.3" r="1.1"/>
<circle cx="668.6" cy="71" r="1.1"/>
<circle cx="647.1" cy="73.7" r="1.1"/>
<circle cx="595" cy="53" r="1.1"/>
<circle cx="604.3" cy="60.1" r="1.1"/>
<circle cx="610.3" cy="89.1" r="1.1"/>
<circle cx="605" cy="101" r="1.1"/>
<circle cx="606.4" cy="115.9" r="1.1"/>
<circle cx="541.7" cy="219.7" r="1.1"/>
<circle cx="511.4" cy="245.7" r="1.1"/>
<circle cx="544.3" cy="254" r="1.1"/>
<circle cx="626" cy="219.3" r="1.1"/>
<circle cx="639.3" cy="261.4" r="1.1"/>
<circle cx="656.5" cy="274.2" r="1.1"/>
<circle cx="659.2" cy="288.9" r="1.1"/>
<circle cx="607.1" cy="281.3" r="1.1"/>
<circle cx="653.1" cy="315.7" r="1.1"/>
<circle cx="605.7" cy="324.9" r="1.1"/>
<circle cx="646" cy="344" r="1.1"/>
<circle cx="492.6" cy="350.4" r="1.1"/>
<circle cx="556.9" cy="319" r="1.1"/>
<circle cx="548.6" cy="325.7" r="1.1"/>
<circle cx="566.2" cy="379.7" r="1.1"/>
<circle cx="598.7" cy="361.8" r="1.1"/>
<circle cx="642.6" cy="357.6" r="1.1"/>
<circle cx="653.6" cy="371.4" r="1.1"/>
<circle cx="633.2" cy="372.9" r="1.1"/>
<circle cx="625.2" cy="376.5" r="1.1"/>
</g>
</g>
<g clip-path="url(#cb)">
<g fill="#14d4f2">
<circle cx="63" cy="603" r="0.95"/>
<circle cx="86.5" cy="600.5" r="0.95"/>
<circle cx="51" cy="606.5" r="0.95"/>
<circle cx="314.98" cy="545.43" r="0.95"/>
<circle cx="317.12" cy="546.91" r="0.95"/>
<circle cx="319.5" cy="546.27" r="0.95"/>
<circle cx="321.66" cy="547.67" r="0.95"/>
<circle cx="322.07" cy="553.99" r="0.95"/>
<circle cx="322.05" cy="545.33" r="0.95"/>
<circle cx="324.3" cy="552.92" r="0.95"/>
<circle cx="327.37" cy="545.68" r="0.95"/>
<circle cx="338.5" cy="548.74" r="0.95"/>
<circle cx="340.34" cy="549.56" r="0.95"/>
<circle cx="343.82" cy="543.22" r="0.95"/>
<circle cx="354.54" cy="541.99" r="0.95"/>
<circle cx="359.91" cy="540.91" r="0.95"/>
<circle cx="364.11" cy="548.05" r="0.95"/>
<circle cx="363.84" cy="538.33" r="0.95"/>
<circle cx="369.04" cy="535.46" r="0.95"/>
<circle cx="370.6" cy="533.12" r="0.95"/>
<circle cx="373" cy="538.4" r="0.95"/>
<circle cx="372.53" cy="539.05" r="0.95"/>
<circle cx="384.73" cy="536.57" r="0.95"/>
<circle cx="387.18" cy="536.13" r="0.95"/>
<circle cx="389.18" cy="535.03" r="0.95"/>
</g>
<g fill="#168cff">
<circle cx="73" cy="596.5" r="0.95"/>
<circle cx="81" cy="601.5" r="0.95"/>
<circle cx="50" cy="604" r="0.95"/>
<circle cx="310.75" cy="546.84" r="0.95"/>
<circle cx="310.72" cy="544.59" r="0.95"/>
<circle cx="316.08" cy="551.21" r="0.95"/>
<circle cx="337.93" cy="548.77" r="0.95"/>
<circle cx="359.73" cy="543.27" r="0.95"/>
<circle cx="384.24" cy="532.01" r="0.95"/>
<circle cx="393.67" cy="536.01" r="0.95"/>
</g>
<g fill="#0c3cff">
<circle cx="67" cy="598" r="1"/>
<circle cx="69" cy="602.5" r="1"/>
<circle cx="75" cy="602" r="1"/>
<circle cx="52" cy="602" r="1"/>
<circle cx="55" cy="603" r="1"/>
<circle cx="309.21" cy="546.07" r="1"/>
<circle cx="310.92" cy="550.33" r="1"/>
<circle cx="313.15" cy="554.74" r="1"/>
<circle cx="320.4" cy="546.49" r="1"/>
<circle cx="343.63" cy="544.35" r="1"/>
<circle cx="345.69" cy="546.63" r="1"/>
<circle cx="351.94" cy="545.56" r="1"/>
<circle cx="351.71" cy="540.75" r="1"/>
<circle cx="356.38" cy="542.85" r="1"/>
<circle cx="365.36" cy="534.88" r="1"/>
<circle cx="368.92" cy="542.99" r="1"/>
<circle cx="371.32" cy="535.85" r="1"/>
<circle cx="370.05" cy="545.23" r="1"/>
<circle cx="373.42" cy="540.14" r="1"/>
<circle cx="374.72" cy="541.19" r="1"/>
<circle cx="375.32" cy="538.8" r="1"/>
<circle cx="377.77" cy="530.04" r="1"/>
<circle cx="377.71" cy="528.74" r="1"/>
<circle cx="386.02" cy="532.57" r="1"/>
</g>
<g fill="#00008c">
<circle cx="85" cy="596" r="1.1"/>
<circle cx="77" cy="599" r="1.1"/>
<circle cx="53" cy="599.5" r="1.1"/>
<circle cx="49" cy="599" r="1.1"/>
<circle cx="317.63" cy="554.79" r="1.1"/>
<circle cx="319.8" cy="550.43" r="1.1"/>
<circle cx="348.17" cy="541.96" r="1.1"/>
<circle cx="382.05" cy="531.28" r="1.1"/>
</g>
<g fill="none" stroke="#06069a" stroke-width="0.8">
<ellipse cx="67" cy="598" rx="6.6" ry="3.6" transform="rotate(-15 67 598)"/>
<ellipse cx="73" cy="596.5" rx="6.6" ry="3.6" transform="rotate(-15 73 596.5)"/>
<ellipse cx="79" cy="595.5" rx="6.6" ry="3.6" transform="rotate(-15 79 595.5)"/>
<ellipse cx="85" cy="596" rx="6.6" ry="3.6" transform="rotate(-15 85 596)"/>
<ellipse cx="63" cy="603" rx="6.6" ry="3.6" transform="rotate(-15 63 603)"/>
<ellipse cx="69" cy="602.5" rx="6.6" ry="3.6" transform="rotate(-15 69 602.5)"/>
<ellipse cx="75" cy="602" rx="6.6" ry="3.6" transform="rotate(-15 75 602)"/>
<ellipse cx="81" cy="601.5" rx="6.6" ry="3.6" transform="rotate(-15 81 601.5)"/>
<ellipse cx="86.5" cy="600.5" rx="6.6" ry="3.6" transform="rotate(-15 86.5 600.5)"/>
<ellipse cx="77" cy="599" rx="6.6" ry="3.6" transform="rotate(-15 77 599)"/>
<ellipse cx="52" cy="602" rx="5.5" ry="3.4" transform="rotate(-15 52 602)"/>
<ellipse cx="50" cy="604" rx="5.5" ry="3.4" transform="rotate(-15 50 604)"/>
<ellipse cx="53" cy="599.5" rx="5.5" ry="3.4" transform="rotate(-15 53 599.5)"/>
<ellipse cx="51" cy="606.5" rx="5.5" ry="3.4" transform="rotate(-15 51 606.5)"/>
<ellipse cx="55" cy="603" rx="5.5" ry="3.4" transform="rotate(-15 55 603)"/>
<ellipse cx="49" cy="599" rx="5.5" ry="3.4" transform="rotate(-15 49 599)"/>
<ellipse cx="304.01" cy="549.73" rx="3.95" ry="5.82"/>
<ellipse cx="304.47" cy="550.41" rx="3.65" ry="5.41"/>
<ellipse cx="306.61" cy="545.44" rx="3.74" ry="4.99"/>
<ellipse cx="306.48" cy="544.86" rx="4.29" ry="5.86"/>
<ellipse cx="309.21" cy="546.07" rx="3.51" ry="5.43"/>
<ellipse cx="308.11" cy="550.93" rx="4.12" ry="5.23"/>
<ellipse cx="310.75" cy="546.84" rx="3.74" ry="4.9"/>
<ellipse cx="310.92" cy="550.33" rx="4.25" ry="4.98"/>
<ellipse cx="310.72" cy="544.59" rx="3.95" ry="5.01"/>
<ellipse cx="313.15" cy="554.74" rx="4.18" ry="4.9"/>
<ellipse cx="313.65" cy="554.98" rx="3.82" ry="4.97"/>
<ellipse cx="313.61" cy="547.17" rx="3.57" ry="5.23"/>
<ellipse cx="314.98" cy="545.43" rx="3.7" ry="5"/>
<ellipse cx="314.91" cy="550.28" rx="3.86" ry="5.09"/>
<ellipse cx="316.08" cy="551.21" rx="3.59" ry="5.32"/>
<ellipse cx="317.63" cy="554.79" rx="3.97" ry="5.9"/>
<ellipse cx="317.34" cy="553.46" rx="4.01" ry="5"/>
<ellipse cx="317.12" cy="546.91" rx="4.12" ry="5.23"/>
<ellipse cx="319.5" cy="546.27" rx="4.01" ry="4.92"/>
<ellipse cx="319.8" cy="550.43" rx="4.17" ry="5.04"/>
<ellipse cx="320.4" cy="546.49" rx="3.99" ry="5.63"/>
<ellipse cx="321.66" cy="547.67" rx="3.89" ry="4.98"/>
<ellipse cx="322.07" cy="553.99" rx="3.69" ry="5.6"/>
<ellipse cx="322.05" cy="545.33" rx="4.08" ry="4.97"/>
<ellipse cx="324.3" cy="552.92" rx="3.66" ry="4.92"/>
<ellipse cx="324.05" cy="543.34" rx="3.73" ry="5.43"/>
<ellipse cx="324.74" cy="544.35" rx="3.86" ry="5.23"/>
<ellipse cx="326.77" cy="552.67" rx="3.97" ry="5.82"/>
<ellipse cx="327.37" cy="545.68" rx="3.53" ry="5.5"/>
<ellipse cx="329.68" cy="545.73" rx="4.3" ry="4.98"/>
<ellipse cx="329.96" cy="550.38" rx="4.09" ry="5.6"/>
<ellipse cx="331.47" cy="545.97" rx="4.05" ry="5.8"/>
<ellipse cx="331.41" cy="549.48" rx="4.19" ry="5.47"/>
<ellipse cx="334.69" cy="548.05" rx="3.99" ry="4.98"/>
<ellipse cx="334.03" cy="550.43" rx="4.08" ry="5.29"/>
<ellipse cx="335.45" cy="547.14" rx="4.17" ry="4.98"/>
<ellipse cx="336.2" cy="548.43" rx="3.88" ry="5.13"/>
<ellipse cx="337.93" cy="548.77" rx="4.24" ry="5.16"/>
<ellipse cx="338.5" cy="548.74" rx="3.91" ry="5.65"/>
<ellipse cx="341.29" cy="545.45" rx="3.82" ry="5.15"/>
<ellipse cx="340.34" cy="549.56" rx="3.66" ry="5.11"/>
<ellipse cx="343.82" cy="543.22" rx="3.78" ry="5.8"/>
<ellipse cx="343.63" cy="544.35" rx="3.64" ry="5.35"/>
<ellipse cx="345.95" cy="543" rx="3.92" ry="5.57"/>
<ellipse cx="345.69" cy="546.63" rx="3.76" ry="5.73"/>
<ellipse cx="347.93" cy="540.1" rx="3.78" ry="5.55"/>
<ellipse cx="348.17" cy="541.96" rx="3.65" ry="5.67"/>
<ellipse cx="350.22" cy="549.26" rx="3.59" ry="5.01"/>
<ellipse cx="349.61" cy="540.03" rx="3.56" ry="5.1"/>
<ellipse cx="351.94" cy="545.56" rx="4.1" ry="5.43"/>
<ellipse cx="352.71" cy="540.03" rx="4.06" ry="5.42"/>
<ellipse cx="351.71" cy="540.75" rx="4.13" ry="5.81"/>
<ellipse cx="354.54" cy="541.99" rx="4" ry="5.81"/>
<ellipse cx="354.83" cy="544.96" rx="3.66" ry="5.62"/>
<ellipse cx="355.36" cy="545.95" rx="3.67" ry="5.8"/>
<ellipse cx="357.47" cy="543.59" rx="4.13" ry="5.22"/>
<ellipse cx="357.33" cy="540.76" rx="3.57" ry="5.34"/>
<ellipse cx="356.38" cy="542.85" rx="3.52" ry="5.71"/>
<ellipse cx="359.91" cy="540.91" rx="4.13" ry="5.04"/>
<ellipse cx="359.73" cy="543.27" rx="4.26" ry="4.99"/>
<ellipse cx="358.81" cy="544.3" rx="3.63" ry="5.41"/>
<ellipse cx="361.19" cy="545.39" rx="4.26" ry="5.77"/>
<ellipse cx="361.36" cy="537.44" rx="3.94" ry="5.17"/>
<ellipse cx="360.77" cy="537.04" rx="3.5" ry="5.28"/>
<ellipse cx="364.11" cy="548.05" rx="3.94" ry="5.89"/>
<ellipse cx="364.48" cy="535.28" rx="3.93" ry="5.31"/>
<ellipse cx="363.84" cy="538.33" rx="3.88" ry="5.03"/>
<ellipse cx="365.36" cy="534.88" rx="3.84" ry="4.93"/>
<ellipse cx="365.69" cy="535.59" rx="3.51" ry="5.18"/>
<ellipse cx="366.3" cy="540.74" rx="3.9" ry="5.48"/>
<ellipse cx="368.92" cy="542.99" rx="4.06" ry="5.78"/>
<ellipse cx="367.95" cy="541.46" rx="3.93" ry="5.76"/>
<ellipse cx="369.04" cy="535.46" rx="3.93" ry="5.49"/>
<ellipse cx="371.32" cy="535.85" rx="3.75" ry="5.82"/>
<ellipse cx="370.6" cy="533.12" rx="3.69" ry="5.63"/>
<ellipse cx="370.05" cy="545.23" rx="3.93" ry="5.6"/>
<ellipse cx="373" cy="538.4" rx="3.79" ry="5.72"/>
<ellipse cx="373.42" cy="540.14" rx="3.65" ry="4.97"/>
<ellipse cx="372.53" cy="539.05" rx="4.22" ry="5.38"/>
<ellipse cx="374.72" cy="541.19" rx="4.29" ry="5.83"/>
<ellipse cx="375.32" cy="538.8" rx="3.56" ry="5"/>
<ellipse cx="375.85" cy="535.04" rx="3.98" ry="4.91"/>
<ellipse cx="377.77" cy="530.04" rx="3.86" ry="5.64"/>
<ellipse cx="377.71" cy="528.74" rx="4.13" ry="5.22"/>
<ellipse cx="379.55" cy="528.92" rx="3.97" ry="5.24"/>
<ellipse cx="379.31" cy="527.8" rx="4.09" ry="5.06"/>
<ellipse cx="382.05" cy="531.28" rx="3.93" ry="5.27"/>
<ellipse cx="381.42" cy="537.17" rx="3.56" ry="5.24"/>
<ellipse cx="384.24" cy="532.01" rx="4.01" ry="5.52"/>
<ellipse cx="384.73" cy="536.57" rx="3.96" ry="5.43"/>
<ellipse cx="387.18" cy="536.13" rx="4.11" ry="5.88"/>
<ellipse cx="386.02" cy="532.57" rx="3.82" ry="4.95"/>
<ellipse cx="388.97" cy="532.93" rx="3.72" ry="5.24"/>
<ellipse cx="389.18" cy="535.03" rx="4.18" ry="5"/>
<ellipse cx="391.22" cy="536.75" rx="4.26" ry="5.29"/>
<ellipse cx="391.29" cy="539.16" rx="4.18" ry="5.44"/>
<ellipse cx="393.67" cy="536.01" rx="3.73" ry="5.3"/>
<ellipse cx="392.94" cy="534.22" rx="4.24" ry="5.56"/>
</g>
<g fill="none" stroke="#06069a" stroke-width="0.8">
<ellipse cx="112.1" cy="439.5" rx="4.9" ry="11.3"/>
<ellipse cx="133.6" cy="473.6" rx="5.5" ry="7.6"/>
<ellipse cx="141.4" cy="474.6" rx="5.2" ry="7.5"/>
<ellipse cx="147.9" cy="511.7" rx="5.5" ry="7.9"/>
<ellipse cx="294.7" cy="503.9" rx="3.6" ry="5.7"/>
<ellipse cx="348.9" cy="438.1" rx="3" ry="5.7"/>
<ellipse cx="348.5" cy="437.5" rx="2.5" ry="5"/>
<ellipse cx="377.1" cy="439.6" rx="3" ry="5.5"/>
<ellipse cx="378.5" cy="442" rx="3" ry="5.5"/>
<ellipse cx="377.5" cy="441" rx="2.5" ry="5"/>
<ellipse cx="380" cy="453.9" rx="3" ry="6"/>
<ellipse cx="379.3" cy="459.6" rx="3" ry="5.5"/>
<ellipse cx="378.3" cy="464.6" rx="3.2" ry="5.5"/>
<ellipse cx="384.6" cy="465.7" rx="3.4" ry="6"/>
<ellipse cx="388.6" cy="456.7" rx="2.5" ry="5"/>
<ellipse cx="390.7" cy="461" rx="3" ry="5.5"/>
<ellipse cx="375" cy="472.4" rx="3.4" ry="5.7"/>
<ellipse cx="344.3" cy="477.4" rx="2.9" ry="5.4"/>
<ellipse cx="352.9" cy="477.1" rx="3" ry="5.1"/>
<ellipse cx="342.6" cy="483.9" rx="3" ry="5.4"/>
<ellipse cx="340.4" cy="490.3" rx="2.9" ry="5.7"/>
<ellipse cx="312.6" cy="496" rx="3" ry="5"/>
<ellipse cx="331.7" cy="502.4" rx="3.1" ry="6.1"/>
<ellipse cx="342.1" cy="503.9" rx="3.1" ry="5.7"/>
<ellipse cx="346.4" cy="508.6" rx="3.4" ry="6.1"/>
<ellipse cx="365" cy="494.3" rx="3.2" ry="5.7"/>
<ellipse cx="372.6" cy="495" rx="3" ry="5.2"/>
<ellipse cx="382.6" cy="488.9" rx="3" ry="5.5"/>
<ellipse cx="384.6" cy="488" rx="3" ry="5.5"/>
<ellipse cx="383" cy="490" rx="3" ry="5"/>
<ellipse cx="390.7" cy="492.4" rx="3" ry="5.7"/>
<ellipse cx="386.4" cy="502.4" rx="3.2" ry="5.9"/>
<ellipse cx="358.3" cy="517.4" rx="3" ry="5.5"/>
<ellipse cx="408.6" cy="476.2" rx="3.6" ry="5.7" transform="rotate(-10 408.6 476.2)"/>
<ellipse cx="418" cy="473.9" rx="2.9" ry="4.9"/>
<ellipse cx="425.6" cy="518.7" rx="4.5" ry="6" transform="rotate(-30 425.6 518.7)"/>
<ellipse cx="426.5" cy="519.5" rx="4.5" ry="6.5" transform="rotate(-30 426.5 519.5)"/>
<ellipse cx="427" cy="520" rx="4" ry="6" transform="rotate(-30 427 520)"/>
<ellipse cx="424.5" cy="517.5" rx="4" ry="5.5" transform="rotate(-30 424.5 517.5)"/>
<ellipse cx="428" cy="521" rx="4.2" ry="6.2" transform="rotate(-30 428 521)"/>
<ellipse cx="443" cy="513" rx="3" ry="6.5"/>
<ellipse cx="399" cy="521" rx="3.3" ry="5.5"/>
<ellipse cx="400.6" cy="532.6" rx="4.2" ry="5.9"/>
<ellipse cx="123.9" cy="555" rx="5.9" ry="7.4"/>
<ellipse cx="70.3" cy="585.7" rx="5.6" ry="3.6" transform="rotate(-15 70.3 585.7)"/>
<ellipse cx="93.1" cy="579.6" rx="8.2" ry="4.6" transform="rotate(-5 93.1 579.6)"/>
<ellipse cx="101.4" cy="578.6" rx="5.4" ry="4.6"/>
<ellipse cx="111" cy="578.6" rx="5.4" ry="5"/>
<ellipse cx="110" cy="580" rx="5" ry="4.5"/>
<ellipse cx="108.1" cy="580.7" rx="4" ry="4"/>
<ellipse cx="118.9" cy="575" rx="5.4" ry="6.4"/>
<ellipse cx="110.3" cy="586.4" rx="5.4" ry="3.9"/>
<ellipse cx="107.7" cy="590.7" rx="6" ry="3.2" transform="rotate(-10 107.7 590.7)"/>
<ellipse cx="121" cy="592.1" rx="6" ry="4.5"/>
<ellipse cx="123" cy="595" rx="6" ry="4"/>
<ellipse cx="132.1" cy="583.1" rx="5" ry="4"/>
<ellipse cx="131.7" cy="591.4" rx="5.5" ry="4.5"/>
<ellipse cx="120.7" cy="591.7" rx="5.5" ry="4"/>
<ellipse cx="137.1" cy="591.4" rx="5.5" ry="5"/>
<ellipse cx="122.1" cy="595" rx="5.5" ry="3.5"/>
<ellipse cx="127.9" cy="596" rx="5.5" ry="3.5"/>
<ellipse cx="134.3" cy="596" rx="5.5" ry="3.5"/>
<ellipse cx="147.1" cy="589.3" rx="4.8" ry="3.2"/>
<ellipse cx="140.7" cy="575" rx="5.5" ry="5"/>
<ellipse cx="140" cy="578" rx="5.5" ry="5.5"/>
<ellipse cx="142" cy="580" rx="5.5" ry="5.5"/>
<ellipse cx="141" cy="583" rx="5.5" ry="5"/>
<ellipse cx="139" cy="581" rx="5" ry="5"/>
<ellipse cx="143" cy="577" rx="5" ry="5.5"/>
<ellipse cx="145" cy="582" rx="5" ry="5"/>
<ellipse cx="138" cy="584" rx="5.5" ry="4.5"/>
<ellipse cx="165" cy="543.6" rx="6.4" ry="7.1"/>
<ellipse cx="153.6" cy="566" rx="5.4" ry="6.1"/>
<ellipse cx="166.4" cy="570" rx="6" ry="5.5"/>
<ellipse cx="167.5" cy="566" rx="5.5" ry="5.5"/>
<ellipse cx="167" cy="568" rx="5" ry="5"/>
<ellipse cx="165.5" cy="571.5" rx="5.5" ry="5.5"/>
<ellipse cx="84.6" cy="612.4" rx="7.3" ry="4.7" transform="rotate(-55 84.6 612.4)"/>
<ellipse cx="56.3" cy="617.6" rx="6.5" ry="3.5" transform="rotate(-25 56.3 617.6)"/>
<ellipse cx="59.6" cy="609.3" rx="6" ry="3.5" transform="rotate(-25 59.6 609.3)"/>
<ellipse cx="227.1" cy="577.1" rx="5" ry="4.3" transform="rotate(-20 227.1 577.1)"/>
<ellipse cx="233.6" cy="570.4" rx="4.6" ry="5.9"/>
<ellipse cx="242.9" cy="572.6" rx="4.8" ry="5.1"/>
<ellipse cx="249.7" cy="569.3" rx="4.6" ry="6.1"/>
<ellipse cx="260" cy="557.4" rx="4.8" ry="6.1"/>
<ellipse cx="284.6" cy="553.6" rx="4.3" ry="5.9"/>
<ellipse cx="299.3" cy="544" rx="4.1" ry="6.2"/>
<ellipse cx="319.3" cy="564.3" rx="5.3" ry="7.6"/>
<ellipse cx="369.7" cy="587.6" rx="4.8" ry="7.7"/>
<ellipse cx="343.6" cy="535.4" rx="4.1" ry="6.1"/>
</g>
<g fill="#14d4f2">
<circle cx="112.1" cy="439.5" r="0.95"/>
<circle cx="348.9" cy="438.1" r="0.95"/>
<circle cx="378.5" cy="442" r="0.95"/>
<circle cx="379.3" cy="459.6" r="0.95"/>
<circle cx="384.6" cy="465.7" r="0.95"/>
<circle cx="375" cy="472.4" r="0.95"/>
<circle cx="344.3" cy="477.4" r="0.95"/>
<circle cx="352.9" cy="477.1" r="0.95"/>
<circle cx="340.4" cy="490.3" r="0.95"/>
<circle cx="312.6" cy="496" r="0.95"/>
<circle cx="331.7" cy="502.4" r="0.95"/>
<circle cx="346.4" cy="508.6" r="0.95"/>
<circle cx="372.6" cy="495" r="0.95"/>
<circle cx="358.3" cy="517.4" r="0.95"/>
<circle cx="408.6" cy="476.2" r="0.95"/>
<circle cx="418" cy="473.9" r="0.95"/>
<circle cx="399" cy="521" r="0.95"/>
<circle cx="70.3" cy="585.7" r="0.95"/>
<circle cx="108.1" cy="580.7" r="0.95"/>
<circle cx="121" cy="592.1" r="0.95"/>
<circle cx="123" cy="595" r="0.95"/>
<circle cx="132.1" cy="583.1" r="0.95"/>
<circle cx="131.7" cy="591.4" r="0.95"/>
<circle cx="120.7" cy="591.7" r="0.95"/>
<circle cx="137.1" cy="591.4" r="0.95"/>
<circle cx="122.1" cy="595" r="0.95"/>
<circle cx="127.9" cy="596" r="0.95"/>
<circle cx="147.1" cy="589.3" r="0.95"/>
<circle cx="153.6" cy="566" r="0.95"/>
<circle cx="56.3" cy="617.6" r="0.95"/>
<circle cx="242.9" cy="572.6" r="0.95"/>
<circle cx="249.7" cy="569.3" r="0.95"/>
<circle cx="260" cy="557.4" r="0.95"/>
<circle cx="319.3" cy="564.3" r="0.95"/>
<circle cx="369.7" cy="587.6" r="0.95"/>
</g>
<g fill="#168cff">
<circle cx="294.7" cy="503.9" r="0.95"/>
<circle cx="118.9" cy="575" r="0.95"/>
</g>
<g fill="#0c3cff">
<circle cx="141.4" cy="474.6" r="1"/>
<circle cx="380" cy="453.9" r="1"/>
<circle cx="390.7" cy="461" r="1"/>
<circle cx="342.6" cy="483.9" r="1"/>
<circle cx="390.7" cy="492.4" r="1"/>
<circle cx="425.6" cy="518.7" r="1"/>
<circle cx="93.1" cy="579.6" r="1"/>
<circle cx="140.7" cy="575" r="1"/>
<circle cx="142" cy="580" r="1"/>
<circle cx="166.4" cy="570" r="1"/>
<circle cx="59.6" cy="609.3" r="1"/>
<circle cx="299.3" cy="544" r="1"/>
<circle cx="343.6" cy="535.4" r="1"/>
</g>
<g fill="#00008c">
<circle cx="133.6" cy="473.6" r="1.1"/>
<circle cx="147.9" cy="511.7" r="1.1"/>
<circle cx="342.1" cy="503.9" r="1.1"/>
<circle cx="365" cy="494.3" r="1.1"/>
<circle cx="384.6" cy="488" r="1.1"/>
<circle cx="386.4" cy="502.4" r="1.1"/>
<circle cx="400.6" cy="532.6" r="1.1"/>
<circle cx="123.9" cy="555" r="1.1"/>
<circle cx="101.4" cy="578.6" r="1.1"/>
<circle cx="111" cy="578.6" r="1.1"/>
<circle cx="110.3" cy="586.4" r="1.1"/>
<circle cx="134.3" cy="596" r="1.1"/>
<circle cx="165" cy="543.6" r="1.1"/>
<circle cx="84.6" cy="612.4" r="1.1"/>
<circle cx="227.1" cy="577.1" r="1.1"/>
<circle cx="233.6" cy="570.4" r="1.1"/>
<circle cx="284.6" cy="553.6" r="1.1"/>
</g>
</g>
<g fill="#ff9900" stroke="#1a1000" stroke-width="0.55" stroke-linejoin="miter">
<polygon points="217.1,69 225.7,69 221.4,76.4"/>
<polygon points="277.6,67 286.2,67 281.9,74"/>
<polygon points="334.8,66 343.4,66 339.1,73"/>
<polygon points="396.3,66 404.9,66 400.6,72.3"/>
<polygon points="217.1,127.7 225.7,127.7 221.4,135.3"/>
<polygon points="276.1,127.4 284.7,127.4 280.4,134.9"/>
<polygon points="334.2,126.7 342.8,126.7 338.5,133.9"/>
<polygon points="393.7,125.6 402.3,125.6 398,132.7"/>
<polygon points="214.4,183.7 223,183.7 218.7,191"/>
<polygon points="273.6,184.9 282.2,184.9 277.9,192"/>
<polygon points="333.7,183.6 342.3,183.6 338,190.8"/>
<polygon points="395.4,184.3 404,184.3 399.7,191.4"/>
<polygon points="219.3,242.7 227.9,242.7 223.6,249.9"/>
<polygon points="270,242.1 278.6,242.1 274.3,249.6"/>
<polygon points="335,241.3 343.6,241.3 339.3,248.9"/>
<polygon points="392.8,241 401.4,241 397.1,248.1"/>
<polygon points="335.6,298.6 344.2,298.6 339.9,306"/>
<polygon points="394.6,298.1 403.2,298.1 398.9,305.7"/>
<polygon points="215.4,358.1 224,358.1 219.7,365.3"/>
<polygon points="281.3,356.7 289.9,356.7 285.6,363.9"/>
<polygon points="335,356.4 343.6,356.4 339.3,363.6"/>
<polygon points="399.4,355.7 408,355.7 403.7,363.1"/>
</g>
<g fill="none" stroke="#06069a" stroke-width="0.8">
<ellipse cx="399.3" cy="186.8" rx="2.8" ry="2.6"/>
<ellipse cx="337.5" cy="186" rx="3" ry="3.2"/>
<ellipse cx="339.5" cy="188.5" rx="3.2" ry="3.5"/>
</g>
<circle cx="399.1" cy="187" r="1.3" fill="#5cc08c"/>
<circle cx="340" cy="189" r="1.2" fill="#0c3cff"/>
<g fill="none" stroke="#000" stroke-width="2.5" stroke-linejoin="round">
<path clip-path="url(#cr)" d="M550.65,4.5 C550.61,6.15 550.49,11.1 550.42,14.4 C550.35,17.7 550.28,21 550.2,24.3 C550.12,27.6 550.05,30.9 549.97,34.2 C549.89,37.5 549.8,40.8 549.71,44.1 C549.62,47.4 549.53,50.7 549.43,54 C549.33,57.3 549.22,60.6 549.1,63.9 C548.99,67.2 548.87,70.5 548.74,73.8 C548.61,77.1 548.47,80.4 548.32,83.7 C548.17,87 548.02,90.3 547.86,93.6 C547.7,96.9 547.53,100.2 547.35,103.5 C547.17,106.8 546.98,110.1 546.79,113.4 C546.6,116.7 546.41,120 546.2,123.3 C546,126.6 545.78,129.9 545.56,133.2 C545.34,136.5 545.12,139.8 544.9,143.1 C544.68,146.4 544.45,149.7 544.22,153 C543.99,156.3 543.76,159.6 543.53,162.9 C543.3,166.2 543.06,169.5 542.83,172.8 C542.6,176.1 542.37,179.4 542.14,182.7 C541.91,186 541.69,189.32 541.47,192.6 C541.25,195.88 541.04,199.12 540.83,202.4 C540.62,205.68 540.42,209 540.23,212.3 C540.04,215.6 539.86,218.9 539.69,222.2 C539.52,225.5 539.35,228.8 539.2,232.1 C539.05,235.4 538.91,238.7 538.79,242 C538.67,245.3 538.56,248.6 538.47,251.9 C538.38,255.2 538.3,258.5 538.24,261.8 C538.18,265.1 538.14,268.4 538.12,271.7 C538.1,275 538.09,278.3 538.11,281.6 C538.13,284.9 538.16,288.2 538.22,291.5 C538.28,294.8 538.37,298.1 538.47,301.4 C538.57,304.7 538.69,308 538.84,311.3 C538.99,314.6 539.16,317.9 539.36,321.2 C539.56,324.5 539.77,327.8 540.01,331.1 C540.25,334.4 540.52,337.7 540.81,341 C541.1,344.3 541.41,347.6 541.75,350.9 C542.09,354.2 542.45,357.5 542.83,360.8 C543.21,364.1 543.62,367.4 544.04,370.7 C544.46,374 544.91,377.3 545.37,380.6 C545.83,383.9 546.58,388.85 546.82,390.5"/>
<path clip-path="url(#cb)" d="M47.5,554.15 C49.18,553.61 54.22,552.11 57.6,550.89 C60.98,549.67 64.42,548.28 67.8,546.85 C71.18,545.42 74.53,543.87 77.9,542.31 C81.27,540.75 84.63,539.11 88,537.48 C91.37,535.85 94.72,534.18 98.1,532.54 C101.48,530.9 104.92,529.24 108.3,527.63 C111.68,526.02 115.03,524.42 118.4,522.87 C121.77,521.32 125.12,519.79 128.5,518.32 C131.88,516.85 135.32,515.41 138.7,514.03 C142.08,512.65 145.43,511.32 148.8,510.04 C152.17,508.76 155.53,507.54 158.9,506.36 C162.27,505.18 165.62,504.05 169,502.97 C172.38,501.89 175.82,500.85 179.2,499.86 C182.58,498.87 185.93,497.93 189.3,497.01 C192.67,496.09 196.02,495.22 199.4,494.37 C202.78,493.52 206.22,492.71 209.6,491.91 C212.98,491.11 216.33,490.35 219.7,489.59 C223.07,488.83 226.43,488.1 229.8,487.37 C233.17,486.64 236.52,485.92 239.9,485.2 C243.28,484.48 246.72,483.78 250.1,483.06 C253.48,482.34 256.83,481.63 260.2,480.9 C263.57,480.17 266.93,479.44 270.3,478.7 C273.67,477.96 277.02,477.2 280.4,476.44 C283.78,475.68 287.22,474.9 290.6,474.11 C293.98,473.32 297.33,472.51 300.7,471.69 C304.07,470.87 307.42,470.03 310.8,469.18 C314.18,468.33 317.62,467.46 321,466.59 C324.38,465.71 327.73,464.83 331.1,463.93 C334.47,463.03 337.83,462.12 341.2,461.21 C344.57,460.3 347.92,459.38 351.3,458.46 C354.68,457.54 358.12,456.62 361.5,455.7 C364.88,454.78 368.23,453.87 371.6,452.96 C374.97,452.05 378.32,451.15 381.7,450.26 C385.08,449.37 388.52,448.49 391.9,447.63 C395.28,446.77 398.63,445.92 402,445.09 C405.37,444.26 408.73,443.46 412.1,442.67 C415.47,441.88 418.82,441.12 422.2,440.37 C425.58,439.62 429.02,438.89 432.4,438.18 C435.78,437.47 440.82,436.45 442.5,436.1"/>
</g>
<text x="43.7" y="394.9" font-size="13.2" text-anchor="end" textLength="16.79" lengthAdjust="spacingAndGlyphs">60</text>
<text x="43.7" y="298.9" font-size="13.2" text-anchor="end" textLength="16.79" lengthAdjust="spacingAndGlyphs">70</text>
<text x="43.7" y="202.9" font-size="13.2" text-anchor="end" textLength="16.79" lengthAdjust="spacingAndGlyphs">80</text>
<text x="43.7" y="106.9" font-size="13.2" text-anchor="end" textLength="16.79" lengthAdjust="spacingAndGlyphs">90</text>
<text x="43.7" y="10.9" font-size="13.2" text-anchor="end" textLength="25.19" lengthAdjust="spacingAndGlyphs">100</text>
<text x="48.5" y="407.1" font-size="13.2" text-anchor="middle" textLength="21.56" lengthAdjust="spacingAndGlyphs">-20</text>
<text x="146.75" y="407.1" font-size="13.2" text-anchor="middle" textLength="21.56" lengthAdjust="spacingAndGlyphs">-10</text>
<text x="245" y="407.1" font-size="13.2" text-anchor="middle" textLength="8.4" lengthAdjust="spacingAndGlyphs">0</text>
<text x="343.25" y="407.1" font-size="13.2" text-anchor="middle" textLength="16.79" lengthAdjust="spacingAndGlyphs">10</text>
<text x="441.5" y="407.1" font-size="13.2" text-anchor="middle" textLength="16.79" lengthAdjust="spacingAndGlyphs">20</text>
<text x="481" y="406.9" font-size="13.2" text-anchor="middle" textLength="16.79" lengthAdjust="spacingAndGlyphs">10</text>
<text x="530" y="406.9" font-size="13.2" text-anchor="middle" textLength="16.79" lengthAdjust="spacingAndGlyphs">15</text>
<text x="579" y="406.9" font-size="13.2" text-anchor="middle" textLength="16.79" lengthAdjust="spacingAndGlyphs">20</text>
<text x="628" y="406.9" font-size="13.2" text-anchor="middle" textLength="16.79" lengthAdjust="spacingAndGlyphs">25</text>
<text x="677" y="406.9" font-size="13.2" text-anchor="middle" textLength="16.79" lengthAdjust="spacingAndGlyphs">30</text>
<text x="43.7" y="433.1" font-size="13.2" text-anchor="end" textLength="16.79" lengthAdjust="spacingAndGlyphs">10</text>
<text x="43.7" y="481.1" font-size="13.2" text-anchor="end" textLength="16.79" lengthAdjust="spacingAndGlyphs">15</text>
<text x="43.7" y="529.1" font-size="13.2" text-anchor="end" textLength="16.79" lengthAdjust="spacingAndGlyphs">20</text>
<text x="43.7" y="577.1" font-size="13.2" text-anchor="end" textLength="16.79" lengthAdjust="spacingAndGlyphs">25</text>
<text x="43.7" y="625.1" font-size="13.2" text-anchor="end" textLength="16.79" lengthAdjust="spacingAndGlyphs">30</text>
<text x="48.5" y="638.3" font-size="13.2" text-anchor="middle" textLength="21.56" lengthAdjust="spacingAndGlyphs">-20</text>
<text x="146.75" y="638.3" font-size="13.2" text-anchor="middle" textLength="21.56" lengthAdjust="spacingAndGlyphs">-10</text>
<text x="245" y="638.3" font-size="13.2" text-anchor="middle" textLength="8.4" lengthAdjust="spacingAndGlyphs">0</text>
<text x="343.25" y="638.3" font-size="13.2" text-anchor="middle" textLength="16.79" lengthAdjust="spacingAndGlyphs">10</text>
<text x="441.5" y="638.3" font-size="13.2" text-anchor="middle" textLength="16.79" lengthAdjust="spacingAndGlyphs">20</text>
<text x="0" y="0" font-size="14" text-anchor="middle" textLength="47.8" lengthAdjust="spacingAndGlyphs" transform="translate(11.6 198.2) rotate(-90)">Y (km)</text>
<text x="579.1" y="424.7" font-size="14" text-anchor="middle" textLength="82.4" lengthAdjust="spacingAndGlyphs">Depth (km)</text>
<text x="244.9" y="655.5" font-size="14" text-anchor="middle" textLength="49" lengthAdjust="spacingAndGlyphs">X (km)</text>
<text x="0" y="0" font-size="14" text-anchor="middle" textLength="82.8" lengthAdjust="spacingAndGlyphs" transform="translate(19.9 523.7) rotate(-90)">Depth (km)</text>
</svg></body></html>
